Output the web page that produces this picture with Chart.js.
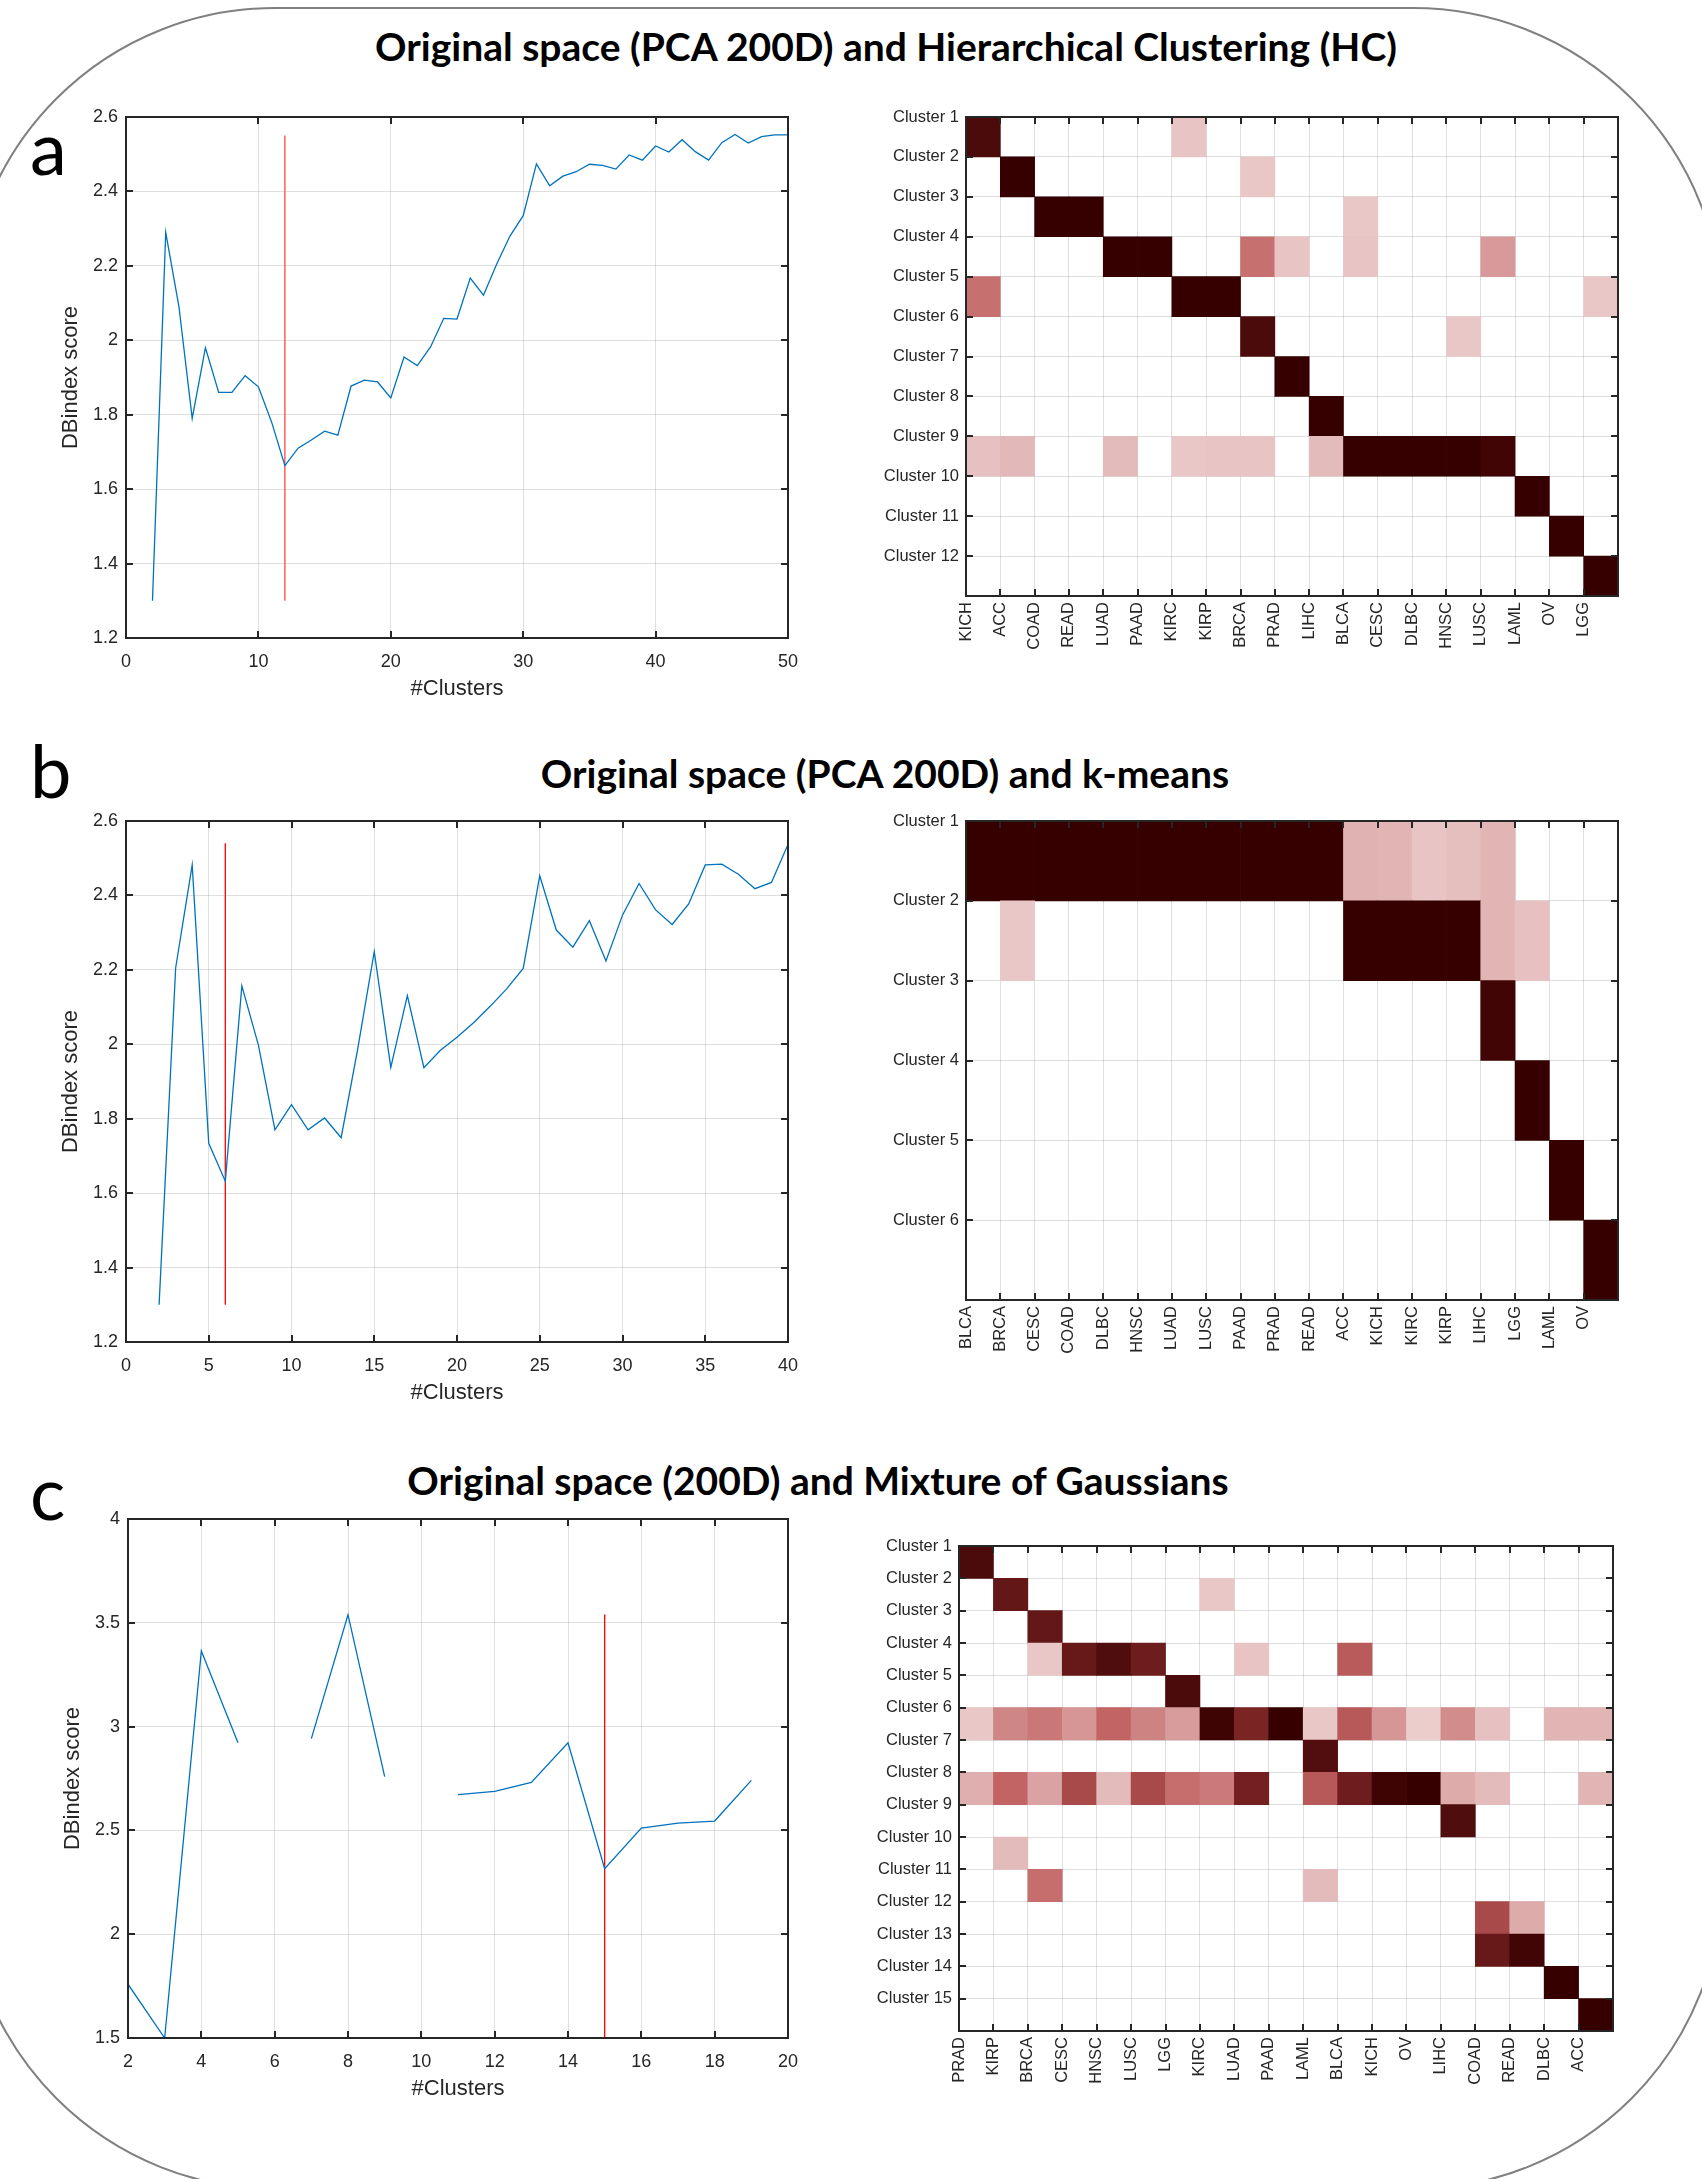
<!DOCTYPE html>
<html>
<head>
<meta charset="utf-8">
<script src="https://cdn.jsdelivr.net/npm/chart.js@4/dist/chart.umd.min.js"></script>
<style>
  html, body { margin: 0; padding: 0; background: #fff; }
  body { position: relative; width: 1702px; height: 2179px; overflow: hidden; }
  .frame { position: absolute; left: -35px; top: 7px; width: 1758px; height: 2183px;
           box-sizing: border-box; border: 2.5px solid #808080; border-radius: 310px; }
  .title { position: absolute; white-space: nowrap; transform: translateX(-50%);
           font-family: Lato, 'Open Sans', sans-serif; font-weight: bold; font-size: 39px;
           line-height: 39px; color: #000; }
  .letter { position: absolute; font-family: Lato, 'Open Sans', sans-serif; font-size: 74px;
            line-height: 74px; color: #000; }
  canvas { position: absolute; }
</style>
</head>
<body>
<div class="frame"></div>

<div class="title" style="left:886px; top:27px;">Original space (PCA 200D) and Hierarchical Clustering (HC)</div>
<div class="title" style="left:885px; top:754px;">Original space (PCA 200D) and k-means</div>
<div class="title" style="left:818px; top:1461px;">Original space (200D) and Mixture of Gaussians</div>

<div class="letter" style="left:30px; top:110px;">a</div>
<div class="letter" style="left:30px; top:733px;">b</div>
<div class="letter" style="left:30px; top:1455px;">c</div>

<canvas id="lineA"></canvas>
<canvas id="heatA"></canvas>
<canvas id="lineB"></canvas>
<canvas id="heatB"></canvas>
<canvas id="lineC"></canvas>
<canvas id="heatC"></canvas>

<script>
// ---------- (a) hierarchical clustering ----------
const clustersA = [2,3,4,5,6,7,8,9,10,11,12,13,14,15,16,17,18,19,20,21,22,23,24,25,26,
                   27,28,29,30,31,32,33,34,35,36,37,38,39,40,41,42,43,44,45,46,47,48,49,50];
const dbindexA = [1.300, 2.290, 2.090, 1.790, 1.980, 1.860, 1.860, 1.905, 1.875, 1.780,
                  1.663, 1.710, 1.732, 1.756, 1.745, 1.877, 1.893, 1.888, 1.845, 1.955,
                  1.932, 1.982, 2.059, 2.057, 2.167, 2.121, 2.205, 2.280, 2.335, 2.474,
                  2.415, 2.441, 2.453, 2.473, 2.470, 2.460, 2.498, 2.484, 2.522, 2.506,
                  2.539, 2.507, 2.484, 2.531, 2.553, 2.530, 2.547, 2.552, 2.552];
const chosenA = 12;
const markerA = [1.30, 2.55];

const rowsA = ['Cluster 1','Cluster 2','Cluster 3','Cluster 4','Cluster 5','Cluster 6',
               'Cluster 7','Cluster 8','Cluster 9','Cluster 10','Cluster 11','Cluster 12'];
const colsA = ['KICH','ACC','COAD','READ','LUAD','PAAD','KIRC','KIRP','BRCA','PRAD',
               'LIHC','BLCA','CESC','DLBC','HNSC','LUSC','LAML','OV','LGG'];
const heatA = [
  [.94,0,0,0,0,0,.19,0,0,0,0,0,0,0,0,0,0,0,0],
  [0,1,0,0,0,0,0,0,.18,0,0,0,0,0,0,0,0,0,0],
  [0,0,1,1,0,0,0,0,0,0,0,.18,0,0,0,0,0,0,0],
  [0,0,0,0,1,1,0,0,.46,.19,0,.19,0,0,0,.33,0,0,0],
  [.46,0,0,0,0,0,1,1,0,0,0,0,0,0,0,0,0,0,.18],
  [0,0,0,0,0,0,0,0,.94,0,0,0,0,0,.18,0,0,0,0],
  [0,0,0,0,0,0,0,0,0,1,0,0,0,0,0,0,0,0,0],
  [0,0,0,0,0,0,0,0,0,0,1,0,0,0,0,0,0,0,0],
  [.20,.23,0,0,.22,0,.18,.19,.19,0,.22,1,1,1,1,.97,0,0,0],
  [0,0,0,0,0,0,0,0,0,0,0,0,0,0,0,0,1,0,0],
  [0,0,0,0,0,0,0,0,0,0,0,0,0,0,0,0,0,1,0],
  [0,0,0,0,0,0,0,0,0,0,0,0,0,0,0,0,0,0,1]
];

// ---------- (b) k-means ----------
const clustersB = [2,3,4,5,6,7,8,9,10,11,12,13,14,15,16,17,18,19,20,21,
                   22,23,24,25,26,27,28,29,30,31,32,33,34,35,36,37,38,39,40];
const dbindexB = [1.300, 2.205, 2.482, 1.734, 1.632, 2.157, 1.998, 1.770, 1.838, 1.770,
                  1.802, 1.749, 1.987, 2.249, 1.938, 2.131, 1.937, 1.984, 2.019, 2.058,
                  2.102, 2.149, 2.204, 2.453, 2.307, 2.261, 2.332, 2.224, 2.347, 2.432,
                  2.361, 2.322, 2.377, 2.482, 2.484, 2.457, 2.418, 2.435, 2.537];
const chosenB = 6;
const markerB = [1.30, 2.54];

const rowsB = ['Cluster 1','Cluster 2','Cluster 3','Cluster 4','Cluster 5','Cluster 6'];
const colsB = ['BLCA','BRCA','CESC','COAD','DLBC','HNSC','LUAD','LUSC','PAAD','PRAD',
               'READ','ACC','KICH','KIRC','KIRP','LIHC','LGG','LAML','OV'];
const heatB = [
  [1,1,1,1,1,1,1,1,1,1,1,.25,.24,.19,.21,.24,0,0,0],
  [0,.18,0,0,0,0,0,0,0,0,0,1,1,1,1,.24,.20,0,0],
  [0,0,0,0,0,0,0,0,0,0,0,0,0,0,0,.97,0,0,0],
  [0,0,0,0,0,0,0,0,0,0,0,0,0,0,0,0,1,0,0],
  [0,0,0,0,0,0,0,0,0,0,0,0,0,0,0,0,0,1,0],
  [0,0,0,0,0,0,0,0,0,0,0,0,0,0,0,0,0,0,1]
];

// ---------- (c) mixture of Gaussians (missing scores left as gaps) ----------
const clustersC = [2,3,4,5,6,7,8,9,10,11,12,13,14,15,16,17,18,19];
const dbindexC = [1.759, 1.500, 3.364, 2.922, null, 2.942, 3.539, 2.759, null,
                  2.672, 2.688, 2.731, 2.922, 2.315, 2.511, 2.535, 2.545, 2.741];
const chosenC = 15;
const markerC = [1.50, 3.54];

const rowsC = ['Cluster 1','Cluster 2','Cluster 3','Cluster 4','Cluster 5','Cluster 6',
               'Cluster 7','Cluster 8','Cluster 9','Cluster 10','Cluster 11','Cluster 12',
               'Cluster 13','Cluster 14','Cluster 15'];
const colsC = ['PRAD','KIRP','BRCA','CESC','HNSC','LUSC','LGG','KIRC','LUAD','PAAD',
               'LAML','BLCA','KICH','OV','LIHC','COAD','READ','DLBC','ACC'];
const heatC = [
  [.94,0,0,0,0,0,0,0,0,0,0,0,0,0,0,0,0,0,0],
  [0,.87,0,0,0,0,0,.18,0,0,0,0,0,0,0,0,0,0,0],
  [0,0,.87,0,0,0,0,0,0,0,0,0,0,0,0,0,0,0,0],
  [0,0,.18,.86,.93,.84,0,0,.19,0,0,.54,0,0,0,0,0,0,0],
  [0,0,0,0,0,0,.94,0,0,0,0,0,0,0,0,0,0,0,0],
  [.18,.39,.44,.34,.50,.40,.32,.98,.80,1,.18,.55,.34,.16,.37,.20,0,.24,.24],
  [0,0,0,0,0,0,0,0,0,0,.92,0,0,0,0,0,0,0,0],
  [.26,.50,.30,.62,.22,.62,.47,.43,.82,0,.55,.84,.98,1,.27,.22,0,0,.24],
  [0,0,0,0,0,0,0,0,0,0,0,0,0,0,.93,0,0,0,0],
  [0,.22,0,0,0,0,0,0,0,0,0,0,0,0,0,0,0,0,0],
  [0,0,.47,0,0,0,0,0,0,0,.22,0,0,0,0,0,0,0,0],
  [0,0,0,0,0,0,0,0,0,0,0,0,0,0,0,.62,.27,0,0],
  [0,0,0,0,0,0,0,0,0,0,0,0,0,0,0,.86,.97,0,0],
  [0,0,0,0,0,0,0,0,0,0,0,0,0,0,0,0,0,1,0],
  [0,0,0,0,0,0,0,0,0,0,0,0,0,0,0,0,0,0,1]
];

// ---------- shared styling ----------
const INK = '#262626';
const GRID = 'rgba(38,38,38,0.15)';
const LINE_BLUE = 'rgb(0,114,189)';
const SANS = "'Liberation Sans', Arial, sans-serif";

// white -> rose -> dark maroon colour scale
const shadeStops = [[0, 255,255,255], [0.5, 194,100,100], [0.75, 140,45,45], [1, 55,0,0]];
function shade(v) {
  for (let i = 1; i < shadeStops.length; i++) {
    const a = shadeStops[i - 1], b = shadeStops[i];
    if (v <= b[0]) {
      const t = (v - a[0]) / (b[0] - a[0]);
      const c = [1, 2, 3].map(k => Math.round(a[k] + (b[k] - a[k]) * t));
      return `rgb(${c[0]},${c[1]},${c[2]})`;
    }
  }
  return 'rgb(55,0,0)';
}

// closed axes box with inward tick marks on all four sides
const axesBox = {
  id: 'axesBox',
  afterDraw(chart, args, opts) {
    const { ctx, chartArea: a, scales: { x, y } } = chart;
    const len = opts.len || 7;
    ctx.save();
    ctx.strokeStyle = INK;
    ctx.lineWidth = 2;
    ctx.beginPath();
    x.ticks.forEach(t => {
      const p = Math.round(x.getPixelForValue(t.value));
      ctx.moveTo(p, a.bottom); ctx.lineTo(p, a.bottom - len);
      ctx.moveTo(p, a.top); ctx.lineTo(p, a.top + len);
    });
    y.ticks.forEach(t => {
      const p = Math.round(y.getPixelForValue(t.value));
      ctx.moveTo(a.left, p); ctx.lineTo(a.left + len, p);
      ctx.moveTo(a.right, p); ctx.lineTo(a.right - len, p);
    });
    ctx.stroke();
    ctx.strokeRect(a.left, a.top, a.right - a.left, a.bottom - a.top);
    ctx.restore();
  }
};

// place a canvas so that its plot area lands on the given box
function placeCanvas(id, box, axisW, axisH, pad) {
  const cv = document.getElementById(id);
  const w = pad.left + axisW + (box.R - box.L) + pad.right;
  const h = pad.top + (box.B - box.T) + axisH + pad.bottom;
  cv.width = w; cv.height = h;
  cv.style.width = w + 'px'; cv.style.height = h + 'px';
  cv.style.left = (box.L - axisW - pad.left) + 'px';
  cv.style.top = (box.T - pad.top) + 'px';
  return cv;
}

const fmt = v => String(Math.round(v * 100) / 100);

function lineChart(id, box, ks, scores, xr, yr, chosen, marker, markColor) {
  const pad = { left: 10, top: 20, right: 30, bottom: 10 };
  const axisW = 68, axisH = 64;
  const cv = placeCanvas(id, box, axisW, axisH, pad);
  return new Chart(cv, {
    type: 'line',
    data: {
      datasets: [
        { data: ks.map((k, i) => ({ x: k, y: scores[i] })), borderColor: LINE_BLUE,
          borderWidth: 1.3, pointRadius: 0, tension: 0, spanGaps: false },
        { data: marker.map(v => ({ x: chosen, y: v })), borderColor: markColor,
          borderWidth: 1.3, pointRadius: 0 }
      ]
    },
    options: {
      responsive: false, animation: false, devicePixelRatio: 1,
      layout: { padding: pad },
      plugins: { legend: { display: false }, tooltip: { enabled: false }, axesBox: { len: 7 } },
      scales: {
        x: {
          type: 'linear', min: xr[0], max: xr[1],
          grid: { color: GRID, drawTicks: false, lineWidth: 1 },
          border: { display: false },
          ticks: { stepSize: xr[2], padding: 13, color: INK, font: { family: SANS, size: 18 },
                   callback: fmt },
          title: { display: true, text: '#Clusters', color: INK, padding: 0,
                   font: { family: SANS, size: 22 } },
          afterFit: s => { s.height = axisH; s.paddingLeft = 0; s.paddingRight = 0; }
        },
        y: {
          type: 'linear', min: yr[0], max: yr[1],
          grid: { color: GRID, drawTicks: false, lineWidth: 1 },
          border: { display: false },
          ticks: { stepSize: yr[2], padding: 8, color: INK, font: { family: SANS, size: 18 },
                   callback: fmt },
          title: { display: true, text: 'DBindex score', color: INK, padding: 0,
                   font: { family: SANS, size: 22 } },
          afterFit: s => { s.width = axisW; }
        }
      }
    },
    plugins: [axesBox]
  });
}

function heatChart(id, box, rows, cols, matrix) {
  const pad = { left: 10, top: 20, right: 20, bottom: 10 };
  const axisW = 150, axisH = 75;
  const cv = placeCanvas(id, box, axisW, axisH, pad);
  const cells = [], colors = [];
  matrix.forEach((row, r) => row.forEach((v, c) => {
    if (v > 0) { cells.push({ y: r + 0.5, x: [c, c + 1] }); colors.push(shade(v)); }
  }));
  return new Chart(cv, {
    type: 'bar',
    data: {
      datasets: [{ data: cells, backgroundColor: colors, borderWidth: 0,
                   categoryPercentage: 1, barPercentage: 1 }]
    },
    options: {
      indexAxis: 'y',
      responsive: false, animation: false, devicePixelRatio: 1,
      layout: { padding: pad },
      plugins: { legend: { display: false }, tooltip: { enabled: false }, axesBox: { len: 7 } },
      scales: {
        x: {
          type: 'linear', position: 'bottom', min: 0, max: cols.length, z: 1,
          grid: { color: GRID, drawTicks: false, lineWidth: 1 },
          border: { display: false },
          ticks: { stepSize: 1, autoSkip: false, minRotation: 90, maxRotation: 90, padding: 6,
                   color: INK, font: { family: SANS, size: 16.5 },
                   callback: v => (cols[v] !== undefined ? cols[v] : '') },
          afterFit: s => { s.height = axisH; s.paddingLeft = 0; s.paddingRight = 0; }
        },
        y: {
          type: 'linear', position: 'left', reverse: true, min: 0, max: rows.length,
          offset: false, z: 1,
          grid: { color: GRID, drawTicks: false, lineWidth: 1, offset: false },
          border: { display: false },
          ticks: { stepSize: 1, autoSkip: false, padding: 7, color: INK,
                   font: { family: SANS, size: 16.5 },
                   callback: v => (rows[v] !== undefined ? rows[v] : '') },
          afterFit: s => { s.width = axisW; }
        }
      }
    },
    plugins: [axesBox]
  });
}

lineChart('lineA', { L: 126, R: 788, T: 117, B: 638 }, clustersA, dbindexA,
          [0, 50, 10], [1.2, 2.6, 0.2], chosenA, markerA, 'rgb(255,70,70)');
heatChart('heatA', { L: 966, R: 1618, T: 117, B: 596 }, rowsA, colsA, heatA);

lineChart('lineB', { L: 126, R: 788, T: 821, B: 1342 }, clustersB, dbindexB,
          [0, 40, 5], [1.2, 2.6, 0.2], chosenB, markerB, 'rgb(255,0,0)');
heatChart('heatB', { L: 966, R: 1618, T: 821, B: 1300 }, rowsB, colsB, heatB);

lineChart('lineC', { L: 128, R: 788, T: 1519, B: 2038 }, clustersC, dbindexC,
          [2, 20, 2], [1.5, 4, 0.5], chosenC, markerC, 'rgb(255,0,0)');
heatChart('heatC', { L: 959, R: 1613, T: 1546, B: 2031 }, rowsC, colsC, heatC);
</script>
</body>
</html>
